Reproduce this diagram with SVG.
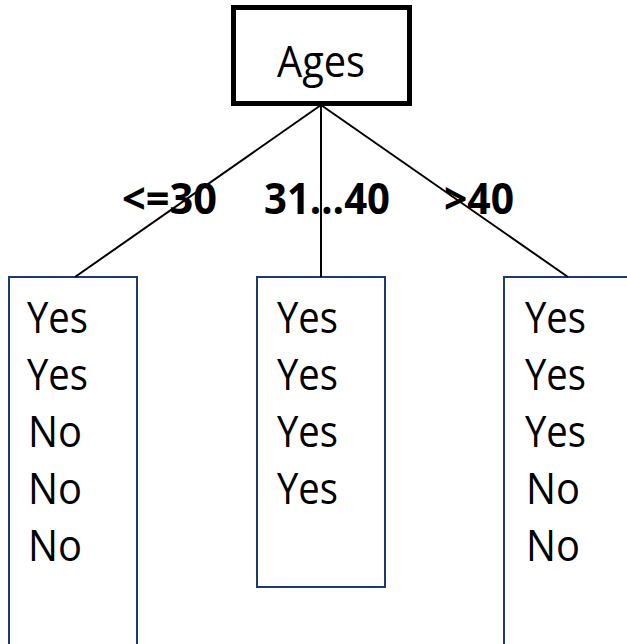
<svg xmlns="http://www.w3.org/2000/svg" width="627" height="644" viewBox="0 0 627 644">
<style>
.leaf{fill:#fff;stroke:#1f3a6e;stroke-width:2}
.t{font-family:"Open Sans","Liberation Sans",sans-serif;font-size:43px;fill:#000}
.lbl{font-family:"Open Sans","Liberation Sans",sans-serif;font-size:43px;font-weight:bold;fill:#000}
.edge{stroke:#000;stroke-width:2;fill:none}
</style>
<rect width="627" height="644" fill="#fff"/>
<g id="root">
<rect x="233.5" y="7.5" width="176" height="96" fill="#fff" stroke="#000" stroke-width="5"/>
<text class="t" x="321" y="77" font-size="48" text-anchor="middle" textLength="88" lengthAdjust="spacingAndGlyphs">Ages</text>
</g>
<g id="leaf-left">
<rect class="leaf" x="9" y="277" width="128" height="380"/>
<text class="t" x="27" y="333" textLength="61" lengthAdjust="spacingAndGlyphs">Yes</text>
<text class="t" x="27" y="390" textLength="61" lengthAdjust="spacingAndGlyphs">Yes</text>
<text class="t" x="28" y="447" textLength="54" lengthAdjust="spacingAndGlyphs">No</text>
<text class="t" x="28" y="504" textLength="54" lengthAdjust="spacingAndGlyphs">No</text>
<text class="t" x="28" y="561" textLength="54" lengthAdjust="spacingAndGlyphs">No</text>
</g>
<g id="leaf-middle">
<rect class="leaf" x="257" y="277" width="128" height="310"/>
<text class="t" x="277" y="333" textLength="61" lengthAdjust="spacingAndGlyphs">Yes</text>
<text class="t" x="277" y="390" textLength="61" lengthAdjust="spacingAndGlyphs">Yes</text>
<text class="t" x="277" y="447" textLength="61" lengthAdjust="spacingAndGlyphs">Yes</text>
<text class="t" x="277" y="504" textLength="61" lengthAdjust="spacingAndGlyphs">Yes</text>
</g>
<g id="leaf-right">
<rect class="leaf" x="504" y="277" width="140" height="380"/>
<text class="t" x="525" y="333" textLength="61" lengthAdjust="spacingAndGlyphs">Yes</text>
<text class="t" x="525" y="390" textLength="61" lengthAdjust="spacingAndGlyphs">Yes</text>
<text class="t" x="525" y="447" textLength="61" lengthAdjust="spacingAndGlyphs">Yes</text>
<text class="t" x="526" y="504" textLength="54" lengthAdjust="spacingAndGlyphs">No</text>
<text class="t" x="526" y="561" textLength="54" lengthAdjust="spacingAndGlyphs">No</text>
</g>
<g id="labels">
<text class="lbl" x="122" y="214" textLength="95" lengthAdjust="spacingAndGlyphs">&lt;=30</text>
<text class="lbl" x="264" y="214" textLength="126" lengthAdjust="spacingAndGlyphs">31…40</text>
<text class="lbl" x="444" y="214" textLength="70" lengthAdjust="spacingAndGlyphs">&gt;40</text>
</g>
<g id="connectors">
<line class="edge" x1="321" y1="105" x2="75" y2="277"/>
<line class="edge" x1="321" y1="105" x2="321" y2="277"/>
<line class="edge" x1="321" y1="105" x2="568" y2="277"/>
</g>
</svg>
